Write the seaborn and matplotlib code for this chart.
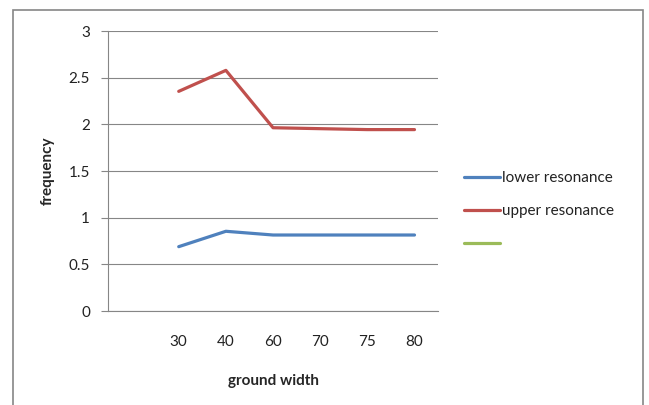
import matplotlib
matplotlib.use("Agg")
import matplotlib.pyplot as plt
import seaborn as sns
import pandas as pd
from matplotlib.lines import Line2D
from matplotlib.patches import Rectangle

categories = ["30", "40", "60", "70", "75", "80"]
lower_resonance = [0.69, 0.855, 0.815, 0.815, 0.815, 0.815]
upper_resonance = [2.355, 2.58, 1.965, 1.955, 1.945, 1.945]
y_ticks = [0, 0.5, 1, 1.5, 2, 2.5, 3]
y_tick_labels = ["0", "0.5", "1", "1.5", "2", "2.5", "3"]

sns.set_style("white")
plt.rcParams['font.family'] = ['Lato', 'DejaVu Sans']

pos = list(range(len(categories)))
df = pd.DataFrame({
    "pos": pos * 2,
    "frequency": lower_resonance + upper_resonance,
    "series": ["lower resonance"] * len(pos) + ["upper resonance"] * len(pos),
})

fig = plt.figure(figsize=(6.49, 4.05), dpi=100)
ax = fig.add_axes([0.1664, 0.232, 0.5086, 0.691])
colors = {"lower resonance": "#4F81BD", "upper resonance": "#C0504D"}
sns.lineplot(data=df, x="pos", y="frequency", hue="series", palette=colors,
             linewidth=2.3, ax=ax, legend=False)

ax.set_xlim(-1.5, len(categories) - 0.5)
ax.set_ylim(0, 3)
ax.set_xticks(pos)
ax.set_xticklabels(categories, fontsize=11, color="#222222")
ax.set_yticks(y_ticks)
ax.set_yticklabels(y_tick_labels, fontsize=11, color="#222222")
ax.grid(axis="y", color="#868686", linewidth=0.8)
ax.set_axisbelow(True)
for s in ["top", "right"]:
    ax.spines[s].set_visible(False)
ax.spines["left"].set_color("#868686")
ax.spines["bottom"].set_color("#868686")
ax.tick_params(axis="y", length=5, color="#868686", direction="out", pad=8, left=True)
ax.tick_params(axis="x", length=0, pad=17)
ax.set_xlabel("ground width", fontsize=11, fontweight="bold", labelpad=18)
ax.set_ylabel("frequency", fontsize=11, fontweight="bold", labelpad=10)

handles = [Line2D([], [], color="#4F81BD", lw=2.3),
           Line2D([], [], color="#C0504D", lw=2.3),
           Line2D([], [], color="#9BBB59", lw=2.3)]
fig.legend(handles, ["lower resonance", "upper resonance", " "],
           loc="upper left", bbox_to_anchor=(0.706, 0.592), frameon=False,
           fontsize=11, handlelength=2.35, handletextpad=0.15, labelspacing=1.25,
           borderaxespad=0, labelcolor="#222222")

fig.patches.append(Rectangle((13 / 649, -0.05), 630 / 649, 1.05 - 10 / 405,
                             transform=fig.transFigure,
                             fill=False, edgecolor="#868686", linewidth=1.2))
fig.savefig("out.png", dpi=100)
